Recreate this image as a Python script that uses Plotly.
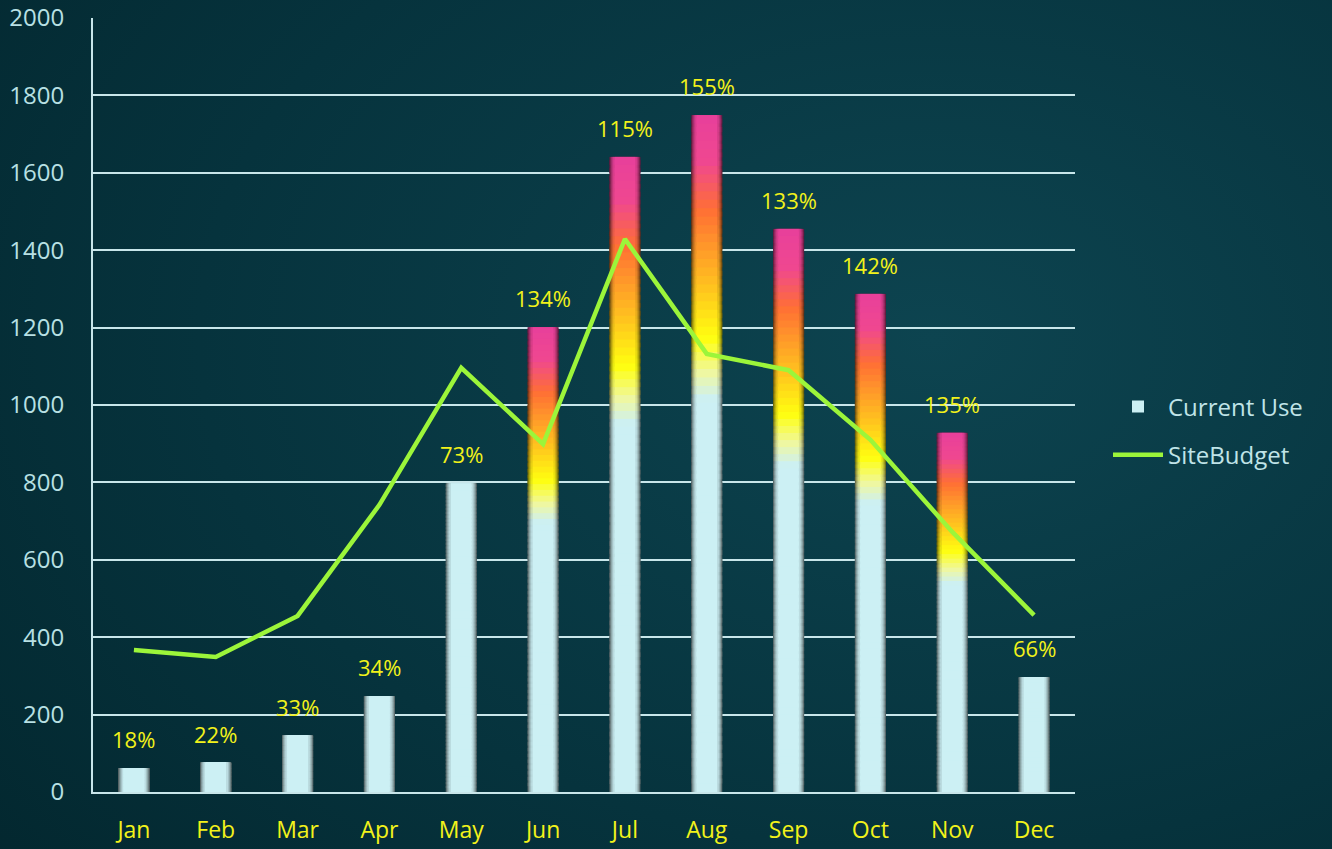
import plotly.graph_objects as go

# ---------------- data ----------------
months = ["Jan", "Feb", "Mar", "Apr", "May", "Jun", "Jul", "Aug", "Sep", "Oct", "Nov", "Dec"]
current_use = [62, 75, 145, 248, 798, 1201, 1641, 1749, 1455, 1287, 928, 297]
site_budget = [367, 349, 455, 742, 1096, 899, 1429, 1132, 1090, 910, 672, 457]
pct_labels = ["18%", "22%", "33%", "34%", "73%", "134%", "115%", "155%", "133%", "142%", "135%", "66%"]
y_ticks = [0, 200, 400, 600, 800, 1000, 1200, 1400, 1600, 1800, 2000]

# ---------------- styling helpers ----------------
SILVER = (204, 240, 244)
STOPS = [
    (0.00, SILVER),
    (0.58, SILVER),
    (0.62, (240, 248, 160)),
    (0.67, (255, 255, 16)),
    (0.75, (255, 192, 32)),
    (0.86, (255, 112, 53)),
    (0.93, (240, 72, 144)),
    (1.00, (232, 64, 156)),
]


def grad(f):
    for (a, ca), (b, cb) in zip(STOPS[:-1], STOPS[1:]):
        if a <= f <= b:
            t = 0 if b == a else (f - a) / (b - a)
            return tuple(ca[k] + (cb[k] - ca[k]) * t for k in range(3))
    return STOPS[-1][1]


def rgb(c, k=1.0):
    return "rgb(%d,%d,%d)" % tuple(max(0, min(255, int(v * k))) for v in c)


N = 80
over = [float(p.strip("%")) > 100 for p in pct_labels]

layers = [(0.38, 0.42), (0.36, 0.56), (0.34, 0.70), (0.315, 0.82), (0.29, 0.92), (0.25, 1.0)]

fig = go.Figure()

# background gradient (on a full-paper helper subplot drawn first)
fig.add_trace(go.Scatter(
    x=[-0.3, 1.7, 1.7, -0.3, -0.3], y=[-0.5, -0.5, 1.7, 1.7, -0.5],
    fill="toself", mode="lines", line=dict(width=0),
    fillgradient=dict(type="radial", colorscale=[[0, "#0d4450"], [0.55, "#06333d"], [1, "#02242b"]]),
    xaxis="x", yaxis="y", showlegend=False, hoverinfo="skip",
))

for li, (w, k) in enumerate(layers):
    xs, bases, hs, cols = [], [], [], []
    for m, v, o in zip(months, current_use, over):
        for i in range(N):
            fm = (i + 0.5) / N
            c = grad(fm) if o else SILVER
            xs.append(m)
            bases.append(v * i / N)
            hs.append(v / N * (1.0 if i == N - 1 else 1.6))
            cols.append(rgb(c, k))
    fig.add_trace(go.Bar(
        x=xs, y=hs, base=bases, width=w,
        marker=dict(color=cols, line=dict(width=0)),
        xaxis="x2", yaxis="y2", name="Current Use",
        showlegend=(li == len(layers) - 1), legendgroup="a", legendrank=1,
        hoverinfo="skip",
    ))

fig.add_trace(go.Scatter(
    x=months, y=site_budget, mode="lines", name="SiteBudget",
    line=dict(color="#9cf53a", width=4.5),
    xaxis="x2", yaxis="y2", legendgroup="b", legendrank=2,
))

for m, v, p in zip(months, current_use, pct_labels):
    fig.add_annotation(
        x=m, y=v, xref="x2", yref="y2", text=p, showarrow=False,
        yanchor="bottom", yshift=12,
        font=dict(family="Open Sans", size=22, color="#f2f21a"),
    )

fig.update_layout(
    width=1332, height=849,
    margin=dict(l=0, r=0, t=0, b=0),
    paper_bgcolor="#042c34",
    plot_bgcolor="rgba(0,0,0,0)",
    barmode="overlay",
    font=dict(family="Open Sans", size=23, color="#b8e0e4"),
    xaxis=dict(domain=[0, 1], range=[0, 1], visible=False, fixedrange=True),
    yaxis=dict(domain=[0, 1], range=[0, 1], visible=False, fixedrange=True),
    xaxis2=dict(
        domain=[93 / 1332, 1075 / 1332], anchor="y2",
        type="category", categoryorder="array", categoryarray=months,
        range=[-0.5, 11.5], showgrid=False, showline=True, linecolor="#c8e6ea", linewidth=2,
        tickfont=dict(family="Open Sans", size=23, color="#f2f21a"),
        ticks="", ticklabelstandoff=16, automargin=False,
    ),
    yaxis2=dict(
        domain=[(849 - 792) / 849, (849 - 18) / 849], anchor="x2",
        range=[0, 2000], tickvals=y_ticks, showgrid=True, gridcolor="#c8e6ea", gridwidth=2,
        showline=True, linecolor="#c8e6ea", linewidth=2, zeroline=False,
        tickfont=dict(family="Open Sans", size=24, color="#b8e0e4"),
        ticks="", ticklabelstandoff=22, automargin=False,
    ),
    legend=dict(
        x=1108 / 1332, y=1 - 431 / 849, xanchor="left", yanchor="middle",
        bgcolor="rgba(0,0,0,0)", font=dict(family="Open Sans", size=24, color="#c0e4e8"),
        traceorder="grouped", tracegroupgap=14, itemwidth=50,
    ),
    showlegend=True,
)

fig.write_html(
    "out.html",
    config={"displayModeBar": False},
    post_script="document.body.style.margin='0';document.body.style.overflow='hidden';"
                "document.body.style.background='#042c34';",
)
